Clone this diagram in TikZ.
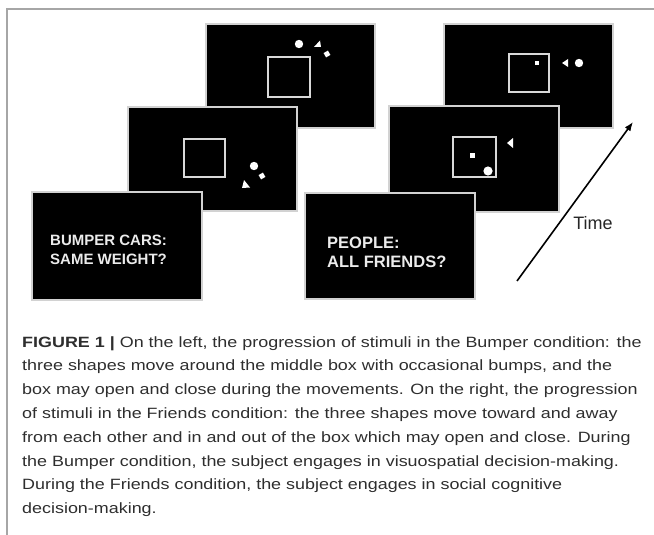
\documentclass[tikz,border=0pt]{standalone}
\usepackage{fontspec}
\setmainfont{Liberation Sans}
\newfontfamily\capfont[FakeStretch=1.203]{Liberation Sans}
\usetikzlibrary{arrows.meta}
\begin{document}
\begin{tikzpicture}[x=1pt,y=-1pt,
  panel/.style={fill=black,draw=gray!35,line width=1.2pt},
  inbox/.style={draw=white!85!black,line width=1.3pt},
  blob/.style={fill=white,draw=none},
  ptext/.style={text=white!92!black,font=\fontsize{16.5}{18}\selectfont\bfseries,anchor=base west,inner sep=0pt},
  ptextl/.style={ptext,font=\fontsize{15}{18}\selectfont\bfseries},
  capline/.style={anchor=base west,inner sep=0pt,text=black!82,font=\capfont\fontsize{14.9}{17}\selectfont},
  frameline/.style={draw=gray!70,line width=1.5pt}]
\useasboundingbox (0,0) rectangle (654,535);
% frame
\draw[frameline] (7,535) -- (7,9) -- (654,9);
% back panels
\path[panel] (206,24) rectangle (375,128);
\path[panel] (444,24) rectangle (613,128);
\draw[inbox] (268,57) rectangle (310,97);
\draw[inbox] (509,54) rectangle (549,92);
\fill[blob] (299,44) circle[radius=4.2pt];
\fill[blob] (314,47) -- (321,47) -- (320,40.5) -- cycle;
\fill[blob,rotate around={30:(327,54)}] (324.5,51.5) rectangle (329.5,56.5);
\fill[blob] (535,61) rectangle (539,65);
\fill[blob] (562,63) -- (568,59) -- (568,67) -- cycle;
\fill[blob] (579,63) circle[radius=4.2pt];
% middle panels
\path[panel] (128,107) rectangle (297,211);
\path[panel] (389,106) rectangle (559,212);
\draw[inbox] (184,139) rectangle (225,177);
\draw[inbox] (453,137) rectangle (496,177);
\fill[blob] (254,166) circle[radius=4.2pt];
\fill[blob,rotate around={30:(262,176)}] (259.5,173.5) rectangle (264.5,178.5);
\fill[blob] (244,180) -- (242,188) -- (250,187.5) -- cycle;
\fill[blob] (469.5,152.5) rectangle (474.5,157.5);
\fill[blob] (488,171) circle[radius=4.6pt];
\fill[blob] (507,143) -- (513,138) -- (513,148) -- cycle;
% front panels
\path[panel] (32,192) rectangle (202,300);
\path[panel] (305,193) rectangle (475,299);
\node[ptextl] (bl1) at (50,245) {BUMPER CARS:};
\node[ptextl] (bl2) at (50,264) {SAME WEIGHT?};
\node[ptext] (pl1) at (327,248) {PEOPLE:};
\node[ptext] (pl2) at (327,267) {ALL FRIENDS?};
% time arrow
\coordinate (tail) at (517,281);
\coordinate (head) at (633,122);
\draw[line width=1.6pt,-{Latex[length=9pt,width=7pt]}] (tail) -- (head);
\node[font=\fontsize{18}{20}\selectfont,text=black!85,inner sep=0pt] (time) at (593,223) {Time};
% caption
\node[capline] (c1) at (22,347) {\textbf{FIGURE 1 |} On the left, the progression of stimuli in the Bumper condition: the};
\node[capline] (c2) at (22,370.8) {three shapes move around the middle box with occasional bumps, and the};
\node[capline] (c3) at (22,394.6) {box may open and close during the movements. On the right, the progression};
\node[capline] (c4) at (22,418.4) {of stimuli in the Friends condition: the three shapes move toward and away};
\node[capline] (c5) at (22,442.2) {from each other and in and out of the box which may open and close. During};
\node[capline] (c6) at (22,466) {the Bumper condition, the subject engages in visuospatial decision-making.};
\node[capline] (c7) at (22,489.8) {During the Friends condition, the subject engages in social cognitive};
\node[capline] (c8) at (22,513.6) {decision-making.};
\end{tikzpicture}
\end{document}
